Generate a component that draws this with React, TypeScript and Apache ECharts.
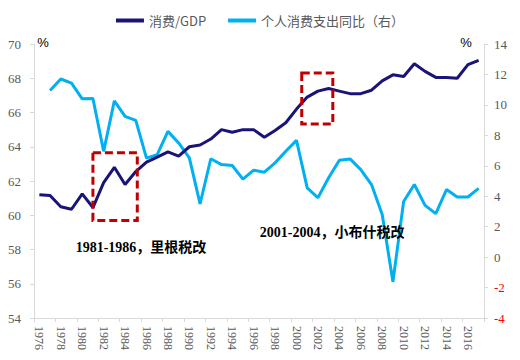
import React, { useEffect, useRef } from 'react';
import * as echarts from 'echarts';

const years = [
  '1976', '1977', '1978', '1979', '1980', '1981', '1982', '1983', '1984', '1985',
  '1986', '1987', '1988', '1989', '1990', '1991', '1992', '1993', '1994', '1995',
  '1996', '1997', '1998', '1999', '2000', '2001', '2002', '2003', '2004', '2005',
  '2006', '2007', '2008', '2009', '2010', '2011', '2012', '2013', '2014', '2015',
  '2016', '2017',
];

const consumptionGdp = [
  61.2, 61.15, 60.5, 60.35, 61.25, 60.45, 61.9, 62.8, 61.8, 62.55,
  63.1, 63.4, 63.7, 63.45, 64.0, 64.1, 64.45, 65.0, 64.85, 65.0,
  65.0, 64.55, 64.95, 65.4, 66.2, 66.9, 67.25, 67.4, 67.25, 67.1,
  67.1, 67.3, 67.85, 68.2, 68.1, 68.85, 68.4, 68.05, 68.05, 68.0,
  68.8, 69.05,
];

const pceYoY = [
  null, 10.95, 11.7, 11.43, 10.4, 10.42, 6.95, 10.27, 9.24, 8.98,
  6.5, 6.73, 8.26, 7.5, 6.52, 3.5, 6.46, 6.08, 6.02, 5.12,
  5.71, 5.58, 6.19, 6.95, 7.67, 4.55, 3.9, 5.21, 6.36, 6.45,
  5.75, 4.77, 2.8, -1.62, 3.65, 4.77, 3.4, 2.86, 4.44, 3.95,
  3.95, 4.52,
];

const seriesNames = ['消费/GDP', '个人消费支出同比（右）'];

// annotation boxes in data terms: [startIndex, endIndex, topValue, bottomValue] (left axis)
const boxes = [
  [5, 9.14, 63.65, 59.7],
  [24.49, 27.39, 68.3, 65.33],
];
const notes = [
  { text: '1981-1986，里根税改', idx: 9.49, val: 58.09 },
  { text: '2001-2004，小布什税改', idx: 27.32, val: 59.02 },
];

const labelFont = '"Liberation Serif", "Times New Roman", serif';

export default function App() {
  const ref = useRef<HTMLDivElement>(null);

  useEffect(() => {
    if (!ref.current) return;
    const chart = echarts.init(ref.current, undefined, { renderer: 'svg' });
    chart.setOption({
      animation: false,
      backgroundColor: '#ffffff',
      legend: {
        top: 9,
        left: 'center',
        itemWidth: 28,
        itemHeight: 4,
        itemGap: 22,
        icon: 'rect',
        textStyle: { color: '#595959', fontSize: 13, fontFamily: '"Noto Sans CJK SC", sans-serif' },
        data: seriesNames,
      },
      grid: { left: 34, right: 36, top: 44, bottom: 42, containLabel: false },
      xAxis: {
        type: 'category',
        data: years,
        boundaryGap: true,
        axisLine: { onZero: false, lineStyle: { color: '#d9d9d9', width: 1 } },
        axisTick: { show: true, interval: 1, length: 4, lineStyle: { color: '#d9d9d9' } },
        axisLabel: {
          interval: 1,
          rotate: -90,
          margin: 8,
          color: '#595959',
          fontSize: 12,
          fontFamily: labelFont,
        },
        splitLine: { show: false },
      },
      yAxis: [
        {
          type: 'value',
          min: 54,
          max: 70,
          interval: 2,
          position: 'left',
          axisLine: { show: true, onZero: false, lineStyle: { color: '#d9d9d9' } },
          axisTick: { show: true, length: 4, lineStyle: { color: '#d9d9d9' } },
          axisLabel: { color: '#595959', fontSize: 13, margin: 13, fontFamily: labelFont },
          splitLine: { show: false },
        },
        {
          type: 'value',
          min: -4,
          max: 14,
          interval: 2,
          position: 'right',
          axisLine: { show: true, onZero: false, lineStyle: { color: '#d9d9d9' } },
          axisTick: { show: true, length: 4, lineStyle: { color: '#d9d9d9' } },
          axisLabel: {
            fontSize: 13,
            margin: 10,
            fontFamily: labelFont,
            color: (v: any) => (Number(v) < 0 ? '#ff0000' : '#595959'),
          },
          splitLine: { show: false },
        },
      ],
      series: [
        {
          name: seriesNames[0],
          type: 'line',
          yAxisIndex: 0,
          data: consumptionGdp,
          showSymbol: false,
          symbol: 'none',
          lineStyle: { color: '#1a1478', width: 3 },
          itemStyle: { color: '#1a1478' },
          z: 3,
        },
        {
          name: seriesNames[1],
          type: 'line',
          yAxisIndex: 1,
          data: pceYoY,
          showSymbol: false,
          symbol: 'none',
          lineStyle: { color: '#00b0f0', width: 3 },
          itemStyle: { color: '#00b0f0' },
          z: 2,
        },
      ],
    });

    const x0 = chart.convertToPixel({ xAxisIndex: 0 }, years[0]) as number;
    const x1 = chart.convertToPixel({ xAxisIndex: 0 }, years[1]) as number;
    const px = (i: number) => x0 + (x1 - x0) * i;
    const py = (v: number) => chart.convertToPixel({ yAxisIndex: 0 }, v) as number;

    const graphics: any[] = [];
    boxes.forEach(([a, b, top, bottom]) => {
      const xa = px(a);
      const xb = px(b);
      const ya = py(top);
      const yb = py(bottom);
      graphics.push({
        type: 'rect',
        shape: { x: xa, y: ya, width: xb - xa, height: yb - ya },
        style: { fill: 'none', stroke: '#c00000', lineWidth: 3, lineDash: [8, 4] },
        z: 10,
      });
    });
    notes.forEach((n) => {
      graphics.push({
        type: 'text',
        x: px(n.idx),
        y: py(n.val),
        style: {
          text: n.text,
          fill: '#000000',
          font: 'bold 14px "Liberation Serif", "Noto Sans CJK SC", serif',
          textAlign: 'center',
          textVerticalAlign: 'middle',
        },
        z: 10,
      });
    });
    graphics.push({
      type: 'text',
      x: 43,
      y: 42,
      style: { text: '%', fill: '#000000', font: '13px "Liberation Sans", sans-serif', textAlign: 'center', textVerticalAlign: 'middle' },
    });
    graphics.push({
      type: 'text',
      x: 466,
      y: 42,
      style: { text: '%', fill: '#000000', font: '13px "Liberation Sans", sans-serif', textAlign: 'center', textVerticalAlign: 'middle' },
    });
    chart.setOption({ graphic: graphics });

    return () => chart.dispose();
  }, []);

  return (
    <div
      ref={ref}
      style={{ position: 'fixed', left: 0, top: 0, width: 520, height: 360, background: '#fff' }}
    />
  );
}
